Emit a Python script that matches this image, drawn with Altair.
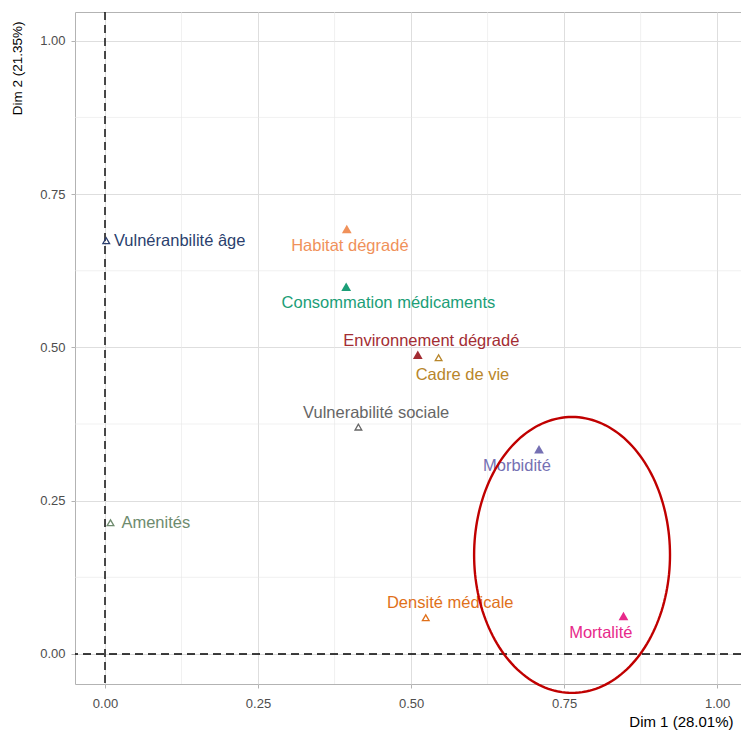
import altair as alt
import numpy as np
import pandas as pd

# Variables projected on the first two dimensions
variables = [
    "Vulnéranbilité âge", "Habitat dégradé", "Consommation médicaments",
    "Environnement dégradé", "Cadre de vie", "Vulnerabilité sociale",
    "Morbidité", "Amenités", "Densité médicale", "Mortalité",
]
dim1 = [0.002, 0.395, 0.394, 0.511, 0.545, 0.414, 0.709, 0.009, 0.524, 0.847]
dim2 = [0.674, 0.693, 0.599, 0.488, 0.483, 0.370, 0.334, 0.214, 0.059, 0.062]
active = [False, True, True, True, False, False, True, False, False, True]

# Label anchor points (repelled away from the markers), in axis units
label_x = [0.122, 0.400, 0.463, 0.533, 0.584, 0.443, 0.673, 0.083, 0.564, 0.810]
label_y = [0.674, 0.666, 0.573, 0.511, 0.455, 0.393, 0.307, 0.213, 0.083, 0.034]

palette = ["#2b3f6e", "#f0915a", "#1b9e77", "#a32d33", "#b8862b",
           "#666666", "#7570b3", "#6e8b6e", "#e0701a", "#e7298a"]

major_breaks = [0.0, 0.25, 0.5, 0.75, 1.0]
minor_breaks = [0.125, 0.375, 0.625, 0.875]

# Highlight ellipse around the health-outcome variables
ell_cx, ell_cy, ell_rx, ell_ry = 0.763, 0.1615, 0.160, 0.225

x_dom = [-0.049, 1.039]
y_dom = [-0.049, 1.047]

df = pd.DataFrame({"var": variables, "d1": dim1, "d2": dim2, "active": active,
                   "lx": label_x, "ly": label_y})
minor_df = pd.DataFrame({"b": minor_breaks})
zero_df = pd.DataFrame({"z": [0.0]})
t = np.linspace(0, 2 * np.pi, 181)
ell_df = pd.DataFrame({"i": np.arange(t.size),
                       "ex": ell_cx + ell_rx * np.cos(t),
                       "ey": ell_cy + ell_ry * np.sin(t)})

FONT = "Liberation Sans"
xs = alt.Scale(domain=x_dom, nice=False, zero=False)
ys = alt.Scale(domain=y_dom, nice=False, zero=False)
cs = alt.Scale(domain=variables, range=palette)

x_axis = alt.Axis(values=major_breaks, format=".2f", title="Dim 1 (28.01%)",
                  titleX=658, titleAlign="right", titleFontSize=15,
                  titleFontWeight="normal", titleColor="#000000", titlePadding=4,
                  titleFont=FONT, labelFont=FONT, labelFontSize=13,
                  labelColor="#4d4d4d", labelPadding=9, tickColor="#b3b3b3",
                  tickSize=4, domain=False, grid=True, gridColor="#dedede",
                  gridWidth=1)
y_axis = alt.Axis(values=major_breaks, format=".2f", title="Dim 2 (21.35%)",
                  titleAnchor="end", titleAngle=270, titleY=9, titleFontSize=13.5,
                  titleFontWeight="normal", titleColor="#000000", titlePadding=15,
                  titleFont=FONT, labelFont=FONT, labelFontSize=13,
                  labelColor="#4d4d4d", labelPadding=6, tickColor="#b3b3b3",
                  tickSize=4, domain=False, grid=True, gridColor="#dedede",
                  gridWidth=1)


def X(field):
    return alt.X(field, type="quantitative", scale=xs, axis=x_axis)


def Y(field):
    return alt.Y(field, type="quantitative", scale=ys, axis=y_axis)


minor_v = alt.Chart(minor_df).mark_rule(color="#e8e8e8", strokeWidth=0.6).encode(
    x=X("b"))
minor_h = alt.Chart(minor_df).mark_rule(color="#e8e8e8", strokeWidth=0.6).encode(
    y=Y("b"))

zero_v = alt.Chart(zero_df).mark_rule(color="#000000", strokeWidth=1.4,
                                      strokeDash=[8, 5]).encode(x=X("z"))
zero_h = alt.Chart(zero_df).mark_rule(color="#000000", strokeWidth=1.4,
                                      strokeDash=[8, 5]).encode(y=Y("z"))

filled_pts = alt.Chart(df).transform_filter("datum.active").mark_point(
    shape="triangle-up", filled=True, size=95, opacity=1).encode(
    x=X("d1"), y=Y("d2"),
    color=alt.Color("var:N", scale=cs, legend=None),
)
open_pts = alt.Chart(df).transform_filter("!datum.active").mark_point(
    shape="triangle-up", filled=False, size=45, strokeWidth=1.3, opacity=1).encode(
    x=X("d1"), y=Y("d2"),
    color=alt.Color("var:N", scale=cs, legend=None),
)

labels = alt.Chart(df).mark_text(font=FONT, fontSize=16.5, align="center",
                                 baseline="middle").encode(
    x=X("lx"), y=Y("ly"),
    text="var:N",
    color=alt.Color("var:N", scale=cs, legend=None),
)

ellipse = alt.Chart(ell_df).mark_line(color="#c00000", strokeWidth=2.4,
                                      clip=False).encode(
    x=X("ex"), y=Y("ey"),
    order="i:Q",
)

chart = alt.layer(
    minor_v, minor_h, zero_v, zero_h, open_pts, filled_pts, labels, ellipse
).properties(
    width=666, height=672,
    autosize=alt.AutoSizeParams(type="none"),
    padding={"left": 75, "top": 12, "right": 0, "bottom": 47},
    background="#ffffff",
).configure_view(stroke="#b3b3b3", strokeWidth=1)

chart.save("out.html", embed_options={"renderer": "svg", "actions": False})
